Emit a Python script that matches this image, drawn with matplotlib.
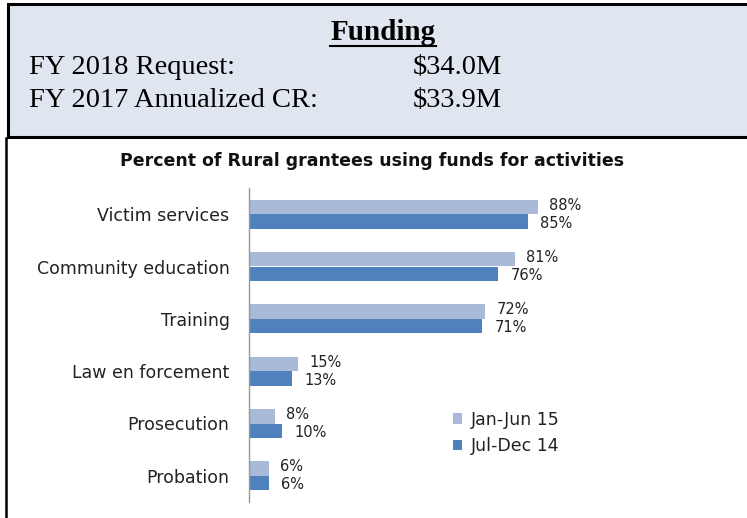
import matplotlib.pyplot as plt
from matplotlib.patches import Rectangle
from matplotlib.lines import Line2D

W, H = 747, 518

# data
categories = ['Victim services', 'Community education', 'Training',
              'Law en forcement', 'Prosecution', 'Probation']
jan_jun_15 = [88, 81, 72, 15, 8, 6]
jul_dec_14 = [85, 76, 71, 13, 10, 6]
series_names = ['Jan-Jun 15', 'Jul-Dec 14']
funding_labels = ['FY 2018 Request:', 'FY 2017 Annualized CR:']
funding_values = ['$34.0M', '$33.9M']

light = '#a9b9d8'
dark = '#4f81bd'

fig = plt.figure(figsize=(W / 100, H / 100), dpi=100)


def fx(px):
    return px / W


def fy(py):
    return 1 - py / H


# funding box at the top
fig.patches.append(Rectangle((fx(8), fy(137)), fx(760) - fx(8), fy(4) - fy(137),
                             transform=fig.transFigure, facecolor='#dfe6ef',
                             edgecolor='black', linewidth=2.2, zorder=0))
# left border of the chart area
fig.add_artist(Line2D([fx(5.5), fx(5.5)], [fy(138), fy(520)],
                      transform=fig.transFigure, color='black', linewidth=1.8))

serif = 'Liberation Serif'
fig.text(fx(383), fy(32), 'Funding', family=serif, fontsize=21, fontweight='bold',
         ha='center', va='center')
fig.add_artist(Line2D([fx(330), fx(436)], [fy(46), fy(46)],
                      transform=fig.transFigure, color='black', linewidth=1.5))
for i, (lab, val) in enumerate(zip(funding_labels, funding_values)):
    yy = fy(67 + i * 33)
    fig.text(fx(29), yy, lab, family=serif, fontsize=20.5, ha='left', va='center')
    fig.text(fx(413), yy, val, family=serif, fontsize=20.5, ha='left', va='center')

# chart
sans = 'DejaVu Sans'
fig.text(fx(372), fy(161), 'Percent of Rural grantees using funds for activities',
         family=sans, fontsize=12.5, fontweight='bold', ha='center', va='center',
         color='#111111')

ax = fig.add_axes([fx(249), fy(502), fx(577) - fx(249), fy(188) - fy(502)])
y = list(range(len(categories)))
bh = 0.275
ax.barh([v - bh / 2 for v in y], jan_jun_15, height=bh, color=light, label=series_names[0])
ax.barh([v + bh / 2 for v in y], jul_dec_14, height=bh, color=dark, label=series_names[1])

for i in y:
    ax.annotate(f'{jan_jun_15[i]}%', (jan_jun_15[i], i - bh / 2), xytext=(8, 1.2),
                textcoords='offset points', va='center', ha='left',
                family=sans, fontsize=10.5, color='#222222')
    ax.annotate(f'{jul_dec_14[i]}%', (jul_dec_14[i], i + bh / 2), xytext=(9, -1.2),
                textcoords='offset points', va='center', ha='left',
                family=sans, fontsize=10.5, color='#222222')

ax.set_xlim(0, 100)
ax.set_ylim(len(categories) - 0.5, -0.5)
ax.set_yticks(y)
ax.set_yticklabels(categories, family=sans, fontsize=12.5, color='#222222')
ax.tick_params(axis='y', length=0, pad=14)
ax.set_xticks([])
for s in ['top', 'right', 'bottom']:
    ax.spines[s].set_visible(False)
ax.spines['left'].set_color('#999999')
ax.spines['left'].set_linewidth(1)

leg = ax.legend(loc='upper left', bbox_to_anchor=(fx(437), fy(395)),
                bbox_transform=fig.transFigure, frameon=False,
                prop={'family': sans, 'size': 12.5}, handlelength=0.55,
                handleheight=0.55, handletextpad=0.5, labelspacing=0.5)
for t in leg.get_texts():
    t.set_color('#222222')

fig.savefig('out.png', dpi=100)
